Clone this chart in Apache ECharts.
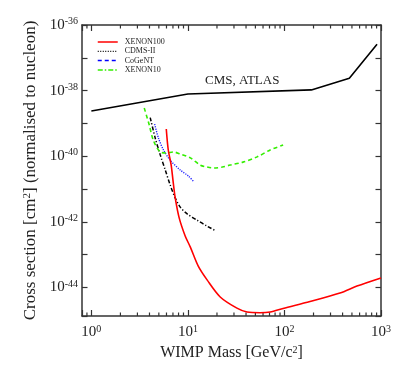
<!DOCTYPE html>
<html><head><meta charset="utf-8">
<script src="https://cdn.jsdelivr.net/npm/echarts@6/dist/echarts.min.js"></script>
<style>html,body{margin:0;padding:0;background:#fff}#c{width:405px;height:368px}</style>
</head><body><div id="c"></div>
<script>
// ---- data (WIMP mass in GeV/c^2, cross section in cm^2) ----
const cmsMass = [1, 10, 190, 470, 910];
const cmsSigma = [2.4e-39, 7.9e-39, 1.05e-38, 2.4e-38, 2.6e-37];

const xenon100Mass = [5.97, 6.26, 6.71, 7.04, 7.39, 8.12, 9.37, 10.6, 12.8, 15.8, 21.6, 32.2, 41, 55.9, 71.1, 96.9, 184, 376, 563, 1000];
const xenon100Sigma = [6.76e-40, 1.55e-40, 5.37e-41, 1.62e-41, 5.37e-42, 1.32e-42, 3.72e-43, 1.70e-43, 4.47e-44, 1.70e-44, 5.13e-45, 2.34e-45, 1.78e-45, 1.70e-45, 1.78e-45, 2.29e-45, 3.72e-45, 6.76e-45, 1.10e-44, 1.95e-44];

const cdmsMass = [4.07, 4.59, 5.17, 5.83, 6.56, 7.39, 8.33, 9.83, 12.5, 15.8, 19.6];
const cdmsSigma = [1.51e-39, 3.55e-40, 1.10e-40, 3.80e-41, 1.32e-41, 5.37e-42, 2.82e-42, 1.74e-42, 1.12e-42, 7.41e-43, 5.25e-43];

const cogentMass = [4.52, 4.96, 5.59, 6.56, 8.33, 10.1, 11.6];
const cogentSigma = [9.55e-40, 3.55e-40, 1.55e-40, 7.59e-41, 3.80e-41, 2.51e-41, 1.62e-41];

const xenon10Mass = [3.53, 3.98, 4.38, 5.17, 5.96, 7.05, 8.33, 10.6, 13.4, 15.8, 18.7, 22.7, 27.3, 37.2, 52.1, 71.1, 96.9];
const xenon10Sigma = [2.95e-39, 8.91e-40, 3.09e-40, 1.35e-40, 1.26e-40, 1.35e-40, 1.17e-40, 8.91e-41, 5.37e-41, 4.68e-41, 4.37e-41, 4.68e-41, 5.37e-41, 6.61e-41, 9.55e-41, 1.55e-40, 2.19e-40];

const legendNames = ['XENON100', 'CDMS-II', 'CoGeNT', 'XENON10'];
const minorTicks = [0.9, 2, 3, 4, 5, 6, 7, 8, 9, 20, 30, 40, 50, 60, 70, 80, 90, 200, 300, 400, 500, 600, 700, 800, 900];
const annotation = 'CMS, ATLAS';
const xRange = [0.8, 1000];
const yRange = [1.35e-45, 1e-36];

// ECharts' log scale rounds to 10 decimals, so cross sections are handed to it
// in units of 1e-46 cm^2; the labels put the true exponent back.
const Y_UNIT_EXP = -46;
const Y_UNIT = Math.pow(10, Y_UNIT_EXP);

// ---- helpers ----
const FONT = '"Liberation Serif", "DejaVu Serif", serif';
const INK = '#222';
function pairs(xs, ys) { return xs.map((x, i) => [x, ys[i] / Y_UNIT]); }
function powLabel(offset, everyOther) {
  return function (v) {
    const e = Math.log10(v);
    const r = Math.round(e);
    if (Math.abs(e - r) > 1e-6) return '';
    const ex = r + offset;
    if (everyOther && ex % 2 !== 0) return '';
    return '{b|10}{s|' + ex + '}';
  };
}
const labelRich = {
  b: { fontFamily: FONT, fontSize: 15, color: INK, lineHeight: 17 },
  s: { fontFamily: FONT, fontSize: 10, color: INK, lineHeight: 10, verticalAlign: 'top' }
};
const axisLineStyle = { color: '#333', width: 1.5 };
const tickStyle = { color: '#333', width: 1.2 };
const supRich = { s: { fontFamily: FONT, fontSize: 10, color: INK, verticalAlign: 'top' } };
const noSymbol = { opacity: 0 };

const chart = echarts.init(document.getElementById('c'), null, { renderer: 'canvas' });
chart.setOption({
  animation: false,
  backgroundColor: '#fff',
  grid: { left: 82, right: 24, top: 25, bottom: 52 },
  legend: {
    data: [
      { name: legendNames[0], itemStyle: noSymbol, lineStyle: { type: 'solid', color: '#ff0000', width: 1.5 } },
      { name: legendNames[1], itemStyle: noSymbol, lineStyle: { type: [1, 1.5], color: '#000', width: 1.2 } },
      { name: legendNames[2], itemStyle: noSymbol, lineStyle: { type: [4, 3], color: '#0000ff', width: 1.5 } },
      { name: legendNames[3], itemStyle: noSymbol, lineStyle: { type: [5, 2, 1.5, 2], color: '#33ee00', width: 1.5 } }
    ],
    orient: 'vertical', left: 97, top: 38, padding: 0,
    itemWidth: 20, itemHeight: 8, itemGap: 1.3,
    textStyle: { fontFamily: FONT, fontSize: 8, color: INK, lineHeight: 8, padding: [0, 0, 0, 2] },
    selectedMode: false
  },
  xAxis: [{
    type: 'log', logBase: 10, min: xRange[0], max: xRange[1], position: 'bottom',
    axisLine: { onZero: false, lineStyle: axisLineStyle },
    axisTick: { inside: true, length: 6, lineStyle: tickStyle },
    axisLabel: { formatter: powLabel(0, false), rich: labelRich, margin: 8 },
    splitLine: { show: false },
    name: 'WIMP Mass [GeV/c{s|2}]', nameLocation: 'middle', nameGap: 22,
    nameTextStyle: { fontFamily: FONT, fontSize: 16, color: INK, rich: supRich }
  }, {
    type: 'log', logBase: 10, min: xRange[0], max: xRange[1], position: 'top',
    axisLine: { onZero: false, lineStyle: axisLineStyle },
    axisTick: { inside: true, length: 6, lineStyle: tickStyle },
    axisLabel: { show: false }, splitLine: { show: false }
  }],
  yAxis: [{
    type: 'log', logBase: 10, min: yRange[0] / Y_UNIT, max: yRange[1] / Y_UNIT, position: 'left',
    axisLine: { onZero: false, lineStyle: axisLineStyle },
    axisTick: { inside: true, length: 5.5, lineStyle: tickStyle },
    axisLabel: { formatter: powLabel(Y_UNIT_EXP, true), rich: labelRich, margin: 4 },
    splitLine: { show: false },
    name: 'Cross section [cm{s|2}] (normalised to nucleon)', nameLocation: 'middle', nameGap: 34,
    nameTextStyle: { fontFamily: FONT, fontSize: 17, color: INK, rich: { s: { fontFamily: FONT, fontSize: 11, color: INK, verticalAlign: 'top' } } }
  }, {
    type: 'log', logBase: 10, min: yRange[0] / Y_UNIT, max: yRange[1] / Y_UNIT, position: 'right',
    axisLine: { onZero: false, lineStyle: axisLineStyle },
    axisTick: { inside: true, length: 5.5, lineStyle: tickStyle },
    axisLabel: { show: false }, splitLine: { show: false }
  }],
  graphic: [{
    type: 'text', left: 205, top: 74,
    style: { text: annotation, fontFamily: FONT, fontSize: 13, fill: INK }
  }],
  series: [
    { name: 'CMS, ATLAS', type: 'line', data: pairs(cmsMass, cmsSigma), symbol: 'none',
      lineStyle: { color: '#000', width: 1.6 }, z: 3 },
    { name: legendNames[0], type: 'line', data: pairs(xenon100Mass, xenon100Sigma), symbol: 'none', smooth: 0.3,
      lineStyle: { color: '#ff0000', width: 1.6 }, itemStyle: { color: '#ff0000' }, z: 4 },
    { name: legendNames[1], type: 'line', data: pairs(cdmsMass, cdmsSigma), symbol: 'none', smooth: 0.3,
      lineStyle: { color: '#000', width: 1.5, type: [4, 2, 1.2, 2] }, itemStyle: { color: '#000' } },
    { name: legendNames[2], type: 'line', data: pairs(cogentMass, cogentSigma), symbol: 'none', smooth: 0.3,
      lineStyle: { color: '#2020ff', width: 1.4, type: [1.2, 1.2] }, itemStyle: { color: '#0000ff' } },
    { name: legendNames[3], type: 'line', data: pairs(xenon10Mass, xenon10Sigma), symbol: 'none', smooth: 0.3,
      lineStyle: { color: '#33ee00', width: 1.6, type: [4, 3] }, itemStyle: { color: '#33ee00' } },
    { name: 'minorTicks', type: 'custom', silent: true, clip: false,
      data: minorTicks.map(v => [v, 1e6]),
      renderItem: function (params, api) {
        const cs = params.coordSys;
        const x = api.coord([api.value(0), 1e6])[0];
        const len = 3.5;
        const st = { stroke: '#333', lineWidth: 1.2 };
        return { type: 'group', children: [
          { type: 'line', shape: { x1: x, y1: cs.y + cs.height, x2: x, y2: cs.y + cs.height - len }, style: st },
          { type: 'line', shape: { x1: x, y1: cs.y, x2: x, y2: cs.y + len }, style: st }
        ] };
      }
    }
  ]
});
</script>
</body></html>
